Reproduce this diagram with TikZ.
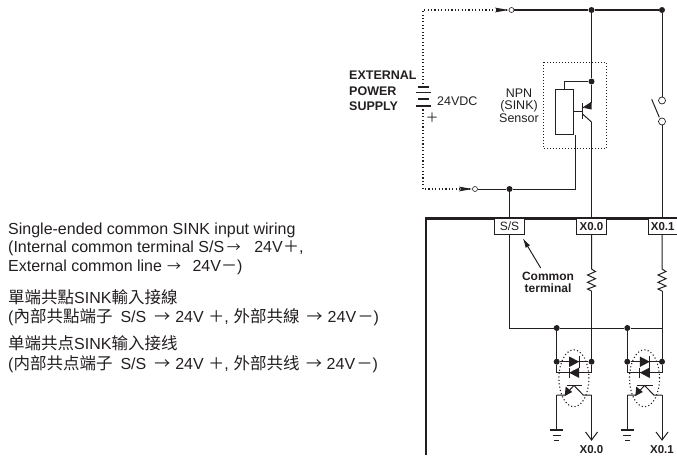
\documentclass[tikz,border=0pt]{standalone}
\usepackage{fontspec}
\setmainfont{Liberation Sans}
\newfontfamily\tcfont{Noto Sans CJK TC}
\newfontfamily\scfont{Noto Sans CJK SC}
\usetikzlibrary{arrows.meta}
\definecolor{ink}{HTML}{231F20}
\newcommand{\tcs}[1]{{\fontsize{16.5}{17}\selectfont\tcfont #1}}
\newcommand{\scs}[1]{{\fontsize{16.5}{17}\selectfont\scfont #1}}
\newcommand{\sgn}[1]{{\fontsize{16}{17}\selectfont\tcfont #1}}
\newcommand{\arr}{{\fontsize{14}{17}\selectfont\tcfont →}}
\newcommand{\kk}[1]{\kern #1pt\relax}
\tikzset{
  wire/.style={draw=ink,line width=1pt},
  busw/.style={draw=ink,line width=1.6pt},
  dotw/.style={draw=ink,line width=1pt,dash pattern=on 1pt off 2pt},
  dotl/.style={draw=ink,line width=1.1pt,dash pattern=on 1.1pt off 2.3pt},
  jn/.style={circle,fill=ink,inner sep=0pt,minimum size=6pt},
  term/.style={circle,draw=ink,fill=white,line width=0.6pt,inner sep=0pt,minimum size=5pt},
  swt/.style={circle,draw=ink,fill=white,line width=0.7pt,inner sep=0pt,minimum size=7pt},
  port/.style={draw=ink,fill=white,line width=0.7pt,inner sep=0pt,minimum height=16.5pt,text=ink,font=\fontsize{12}{12}\selectfont},
  portb/.style={port,line width=1pt,font=\fontsize{11.5}{12}\selectfont\bfseries},
  txt/.style={anchor=west,inner sep=0pt,text=ink,font=\fontsize{16}{17}\selectfont},
  lab/.style={inner sep=0pt,text=ink,font=\fontsize{12.5}{13}\selectfont},
  labb/.style={inner sep=0pt,text=ink,font=\fontsize{12.5}{13}\selectfont\bfseries},
  di/.style={fill=ink,draw=none},
}
\begin{document}
\begin{tikzpicture}[x=1pt,y=-1pt]
\useasboundingbox (0,0) rectangle (677,455);
% texts
\node[txt] (a1) at (8,230) {Single-ended common SINK input wiring};
\node[txt] (a2) at (8,248) {(Internal common terminal S/S\kk{2.5}\arr\kk{13.5}24V\kk{0.5}\sgn{＋},};
\node[txt] (a3) at (8,267) {External common line\kk{5}\arr\kk{11.5}24V\sgn{－})};
\node[txt] (b1) at (8,297) {\tcs{單端共點}SINK\tcs{輸入接線}};
\node[txt] (b2) at (8,317) {(\tcs{內部共點端子}\kk{8}S/S\kk{8}\sgn{→}\kk{5}24V\kk{4.5}\sgn{＋},\kk{5}\tcs{外部共線}\kk{7}\sgn{→}\kk{5}24V\kk{1.5}\sgn{－})};
\node[txt] (c1) at (8,343) {\scs{单端共点}SINK\scs{输入接线}};
\node[txt] (c2) at (8,364) {(\scs{内部共点端子}\kk{8}S/S\kk{8}{\fontsize{16}{17}\selectfont\scfont →}\kk{5}24V\kk{4.5}{\fontsize{16}{17}\selectfont\scfont ＋},\kk{5}\scs{外部共线}\kk{6.5}{\fontsize{16}{17}\selectfont\scfont →}\kk{4.5}24V\kk{1.5}{\fontsize{16}{17}\selectfont\scfont －})};
\node[labb,anchor=west] (e1) at (349,75.5) {EXTERNAL};
\node[labb,anchor=west] (e2) at (349,91.5) {POWER};
\node[labb,anchor=west] (e3) at (349,106) {SUPPLY};
\node[lab,anchor=west] (v) at (437,101) {24VDC};
\node[lab,font=\fontsize{13}{13}\selectfont\tcfont] (pl) at (432,118) {＋};
\node[lab] (s1) at (519,93) {NPN};
\node[lab] (s2) at (519,106) {(SINK)};
\node[lab] (s3) at (519,118) {Sensor};
% PLC frame
\coordinate (fbl) at (426,455);
\coordinate (ftl) at (426,218.5);
\coordinate (ftr) at (677,218.5);
\draw[ink,line width=2.2pt] (fbl) -- (ftl) -- (ftr);
% junctions and terminals
\coordinate (cTL) at (423,10);
\coordinate (cBL) at (423,189);
\node[term] (t1) at (511.5,10) {};
\node[term] (t2) at (475,189) {};
\node[jn] (j1) at (591.5,10) {};
\node[jn] (j2) at (662,10) {};
\node[jn] (j3) at (591.5,81.5) {};
\node[jn] (j4) at (509.5,189) {};
\node[swt] (sw1) at (662,100.5) {};
\node[swt] (sw2) at (662,121.5) {};
\coordinate (bat1) at (423,87);
\coordinate (bat2) at (423,106);
% supply
\draw[dotl] (bat1) -- (cTL) -- (t1.west);
\draw[dotl] (bat2) -- (cBL) -- (t2.west);
\path[fill=ink] (495,7.6) -- (t1.west) -- (495,12.4) -- (497,10) -- cycle;
\path[fill=ink] (459,186.6) -- (t2.west) -- (459,191.4) -- (461,189) -- cycle;
\foreach \yy/\hw in {87/5.5,92.7/7.5,99/5.5,106/7.5}
  \draw[ink,line width=1.5pt] (423-\hw,\yy) -- (423+\hw,\yy);
\draw[busw] (t1) -- (j1) -- (j2);
\draw[wire] (t2) -- (j4) -| (575,134.5);
% sensor
\draw[dotw] (543,62) rectangle (606.7,148);
\node[draw=ink,fill=white,line width=1pt,inner sep=0pt,minimum width=18pt,minimum height=45.5pt] (rs) at (564,111.8) {};
\draw[wire] (j1) -- (j3);
\draw[wire] (j3) -| (rs.north);
\coordinate (qb) at (582.5,111);
\draw[wire] (rs.east |- qb) -- (qb);
\draw[wire] (582.5,103) -- (582.5,119);
\coordinate (qc) at (591.5,102.5);
\coordinate (qe) at (591.5,122);
\draw[wire] (j3) -- (qc);
\draw[wire] (582.5,108) -- (qc);
\path[fill=ink] (591.5,101.5) -- (591.5,109.5) -- (584,108) -- cycle;
\draw[wire] (582.5,114) -- (qe);
% switch
\draw[wire] (j2) -- (sw1);
\draw[wire] (651.7,99.3) -- (659.3,117.3);
% ports
\node[port,minimum width=29.5pt] (pS) at (509.5,226.5) {S/S};
\node[portb,minimum width=29.5pt] (p0) at (591.5,226.5) {X0.0};
\node[portb,minimum width=29.5pt,anchor=west] (p1) at (647.5,226.5) {X0.1};
\draw[wire] (j4) -- (pS);
\draw[wire] (qe) -- (p0);
\draw[wire] (sw2) -- (p1.north -| sw2);
% common label
\node[labb,font=\fontsize{12}{13}\selectfont\bfseries] (ct1) at (548,276) {Common};
\node[labb,font=\fontsize{12}{13}\selectfont\bfseries] (ct2) at (548,288.5) {terminal};
\coordinate (ctip) at (522.7,238);
\coordinate (ctail) at (540.7,268);
\draw[ink,line width=1pt,-{Latex[length=10pt,width=5pt]}] (ctail) -- (ctip);
% internal
\coordinate (bus) at (509.5,328);
\coordinate (busr) at (662,328);
\node[jn] (d1) at (556.7,328) {};
\node[jn] (d2) at (627.3,328) {};
\draw[wire] (pS) -- (bus) -- (d1) -- (d2) -- (busr);
\foreach \xa/\xb/\pn/\lbl/\nm in {556.7/591.5/p0/X0.0/u,627.3/662/p1/X0.1/w}{
  % resistor and input
  \coordinate (\nm rt) at (\xb,269);
  \coordinate (\nm rb) at (\xb,291);
  \draw[wire] (\xb,234.7) -- (\nm rt)
     -- (\xb+4,271.5) -- (\xb-4,275) -- (\xb+4,278.7) -- (\xb-4,282.3) -- (\xb+4,286) -- (\xb-4,289) -- (\nm rb);
  \node[jn] (\nm L) at (\xa,361.7) {};
  \node[jn] (\nm R) at (\xb,361.7) {};
  \coordinate (\nm e) at (\xa,395);
  \coordinate (\nm c) at (\xb,395);
  \draw[wire] (\nm rb) -- (\nm R);
  \draw[wire] (\xa,328) -- (\nm L);
  % photocoupler
  \draw[wire] (\nm L) -- (\nm R);
  \draw[wire] (\nm L) -- (\xa,372.7) -- (\xb,372.7) -- (\nm R);
  \path[di] (\xa+12.5,356.5) -- (\xa+22.5,361.7) -- (\xa+12.5,367) -- cycle;
  \draw[wire] (\xa+22.5,356) -- (\xa+22.5,367.5);
  \path[di] (\xa+22.5,367.5) -- (\xa+12.5,372.7) -- (\xa+22.5,378) -- cycle;
  \draw[wire] (\xa+12.5,367.5) -- (\xa+12.5,378);
  \draw[wire] (\xa+10,385.7) -- (\xa+25.5,385.7);
  \draw[wire] (\nm e) -- (\xa+8.5,395) -- (\xa+17,385.7);
  \path[di] (\xa+9,386.5) -- (\xa+15.5,392) -- (\xa+8,396) -- cycle;
  \draw[wire] (\xa+17.5,385.7) -- (\xa+26.5,395) -- (\nm c);
  \draw[dotl] (\xa+17.2,378.3) ellipse (15pt and 28.5pt);
  % ground and output
  \draw[wire] (\nm e) -- (\xa,430);
  \draw[ink,line width=1.5pt] (\xa-6.7,430) -- (\xa+6.7,430);
  \draw[ink,line width=1.5pt] (\xa-4,435.3) -- (\xa+4,435.3);
  \draw[ink,line width=1.5pt] (\xa-2.3,440.7) -- (\xa+2.3,440.7);
  \coordinate (\nm tip) at (\xb,440);
  \draw[wire] (\nm c) -- (\nm tip);
  \draw[wire] (\xb-6,432) -- (\nm tip) -- (\xb+6,432);
  \node[labb,font=\fontsize{11.5}{12}\selectfont\bfseries] (\nm out) at (\xb,450) {\lbl};
}
\end{tikzpicture}
\end{document}
